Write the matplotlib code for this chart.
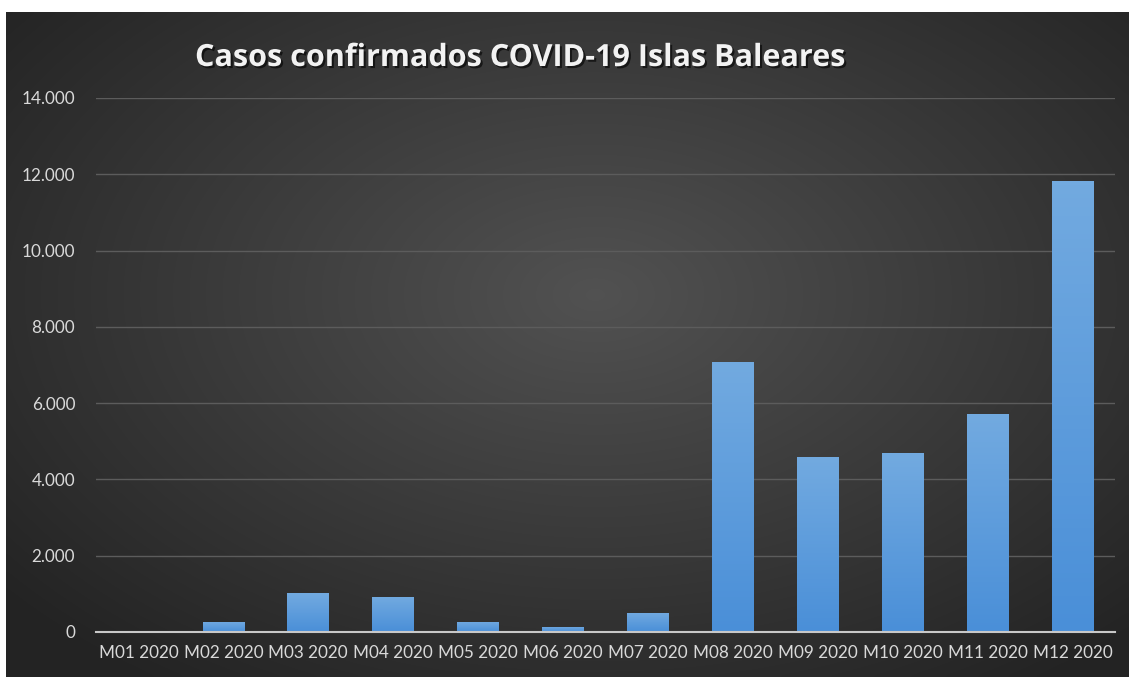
import numpy as np
import matplotlib
matplotlib.use('Agg')
import matplotlib.pyplot as plt
import matplotlib.patheffects as pe
from matplotlib.ticker import FuncFormatter

# === DATA ===
months = ['M01 2020', 'M02 2020', 'M03 2020', 'M04 2020', 'M05 2020', 'M06 2020',
          'M07 2020', 'M08 2020', 'M09 2020', 'M10 2020', 'M11 2020', 'M12 2020']
casos = [2, 270, 1020, 920, 265, 140, 500, 7085, 4595, 4680, 5715, 11835]
yticks = [0, 2000, 4000, 6000, 8000, 10000, 12000, 14000]
title = 'Casos confirmados COVID-19 Islas Baleares'

W, H = 1129, 677
fig = plt.figure(figsize=(W / 100, H / 100), dpi=100, facecolor='white')

# dark radial gradient background (chart area starts a few px in from top/left)
bg = fig.add_axes([6 / W, 0, 1 - 6 / W, 1 - 12 / H])
bg.set_axis_off()
gx, gy = np.meshgrid(np.linspace(-1, 1, 300), np.linspace(-1, 1, 200))
r = np.sqrt(((gx - 0.05) * 0.95) ** 2 + ((gy + 0.15) * 0.9) ** 2)
shade = 0.32 - 0.14 * np.clip(r, 0, 1.3)
bg.imshow(np.dstack([shade] * 3), aspect='auto', extent=[0, 1, 0, 1], interpolation='bicubic')

ax = fig.add_axes([96 / W, 45 / H, 1019 / W, 534 / H])
ax.patch.set_alpha(0)
x = np.arange(len(months))
bars = ax.bar(x, casos, width=0.49, color='#5b9bd5', zorder=3)

# vertical gradient on each bar
grad = np.linspace(0, 1, 100).reshape(-1, 1)
cmap = matplotlib.colors.LinearSegmentedColormap.from_list('b', ['#4a8fd8', '#72aae0'])
for b in bars:
    if b.get_height() <= 0:
        continue
    im = ax.imshow(grad, cmap=cmap, aspect='auto', origin='lower', zorder=4,
                   extent=[b.get_x(), b.get_x() + b.get_width(), 0, b.get_height()])
    im.set_clip_path(b)

ax.set_xlim(-0.5, len(months) - 0.5)
ax.set_ylim(0, 14000)
ax.set_yticks(yticks)
ax.yaxis.set_major_formatter(FuncFormatter(lambda v, p: f'{int(v):,}'.replace(',', '.')))
ax.set_xticks(x)
ax.set_xticklabels(months)
ax.grid(axis='y', color='#5c5c5c', linewidth=1, zorder=0)
for s in ['top', 'right', 'left']:
    ax.spines[s].set_visible(False)
ax.spines['bottom'].set_color('#c8c8c8')
ax.spines['bottom'].set_linewidth(1.5)
ax.spines['bottom'].set_zorder(5)
ax.tick_params(axis='both', length=0, colors='#d9d9d9', labelsize=12.3)
ax.tick_params(axis='y', pad=15)
ax.tick_params(axis='x', pad=9)
for lab in ax.get_xticklabels() + ax.get_yticklabels():
    lab.set_family('Lato')

fig.text(519 / W, 1 - 58 / H, title, ha='center', va='center', fontsize=22,
         fontweight='bold', family='Open Sans', color='#f2f2f2',
         path_effects=[pe.withSimplePatchShadow(offset=(1.5, -1.5), shadow_rgbFace='black', alpha=0.6)])

fig.savefig('out.png', dpi=100, facecolor='white')
